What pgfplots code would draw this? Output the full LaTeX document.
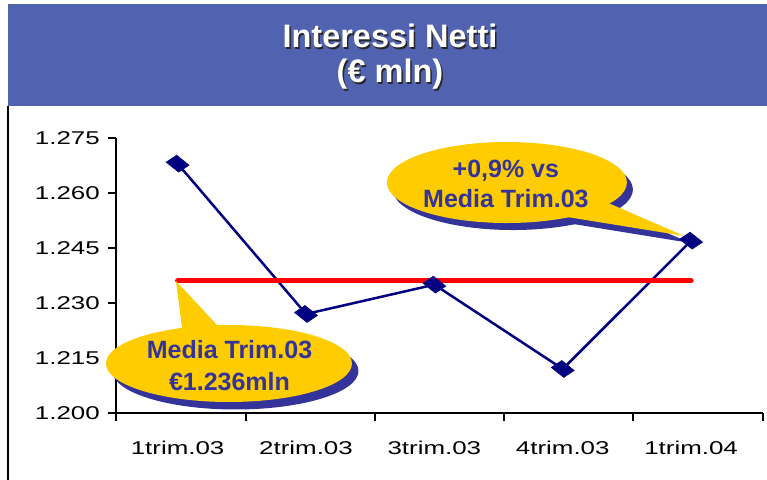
\documentclass[border=0pt]{standalone}
\usepackage{fontspec}
\setmainfont{Liberation Sans}
\usepackage{pgfplots}
\pgfplotsset{compat=1.18}
\usepackage{graphicx}
\definecolor{banner}{RGB}{80,98,176}
\definecolor{calltext}{RGB}{51,51,153}
\definecolor{callshadow}{RGB}{51,51,153}
\definecolor{callyellow}{RGB}{255,204,0}
\definecolor{dataline}{RGB}{0,0,128}
\newcommand{\sx}[1]{\scalebox{1.4}[1]{#1}}
\pgfdeclareplotmark{rhomb}{%
  \pgfpathmoveto{\pgfqpoint{-1bp}{8.5bp}}%
  \pgfpathlineto{\pgfqpoint{11.5bp}{-1.5bp}}%
  \pgfpathlineto{\pgfqpoint{1bp}{-8.5bp}}%
  \pgfpathlineto{\pgfqpoint{-11.5bp}{1.5bp}}%
  \pgfpathclose\pgfusepathqfillstroke}
\begin{document}
\begin{tikzpicture}[x=1bp,y=1bp]
\useasboundingbox (0,0) rectangle (767,480);
\fill[banner] (8,374) rectangle (767,476);
\draw[line width=2bp] (8,0) -- (8,374);
\node[font=\fontsize{32.5bp}{36bp}\selectfont\bfseries, text=black!85, anchor=base, inner sep=0pt] at (391.5,430.5) {Interessi Netti};
\node[font=\fontsize{32.5bp}{36bp}\selectfont\bfseries, text=white, anchor=base, inner sep=0pt] at (390,432) {Interessi Netti};
\node[font=\fontsize{32.5bp}{36bp}\selectfont\bfseries, text=black!85, anchor=base, inner sep=0pt] at (391.5,395.5) {(€ mln)};
\node[font=\fontsize{32.5bp}{36bp}\selectfont\bfseries, text=white, anchor=base, inner sep=0pt] at (390,397) {(€ mln)};
\begin{axis}[
  at={(116bp,67bp)}, anchor=south west, scale only axis,
  width=647bp, height=275bp,
  xmin=-0.48, xmax=4.56, ymin=1.2, ymax=1.275,
  axis lines*=left,
  axis line style={line width=2.5bp, black},
  clip=false,
  tick align=outside, major tick length=8bp,
  tick style={line width=2bp, black},
  xtick={-0.48,0.53,1.54,2.54,3.55,4.56}, xticklabels={},
  extra x ticks={0,1,2,3,4},
  extra x tick labels={\sx{1trim.03},\sx{2trim.03},\sx{3trim.03},\sx{4trim.03},\sx{1trim.04}},
  extra x tick style={major tick length=0pt, tick style={draw=none},
    xticklabel style={anchor=base, inner sep=0pt, yshift=-42bp}},
  ytick={1.2,1.215,1.23,1.245,1.26,1.275},
  yticklabels={\sx{1.200},\sx{1.215},\sx{1.230},\sx{1.245},\sx{1.260},\sx{1.275}},
  yticklabel style={anchor=east, inner sep=0pt, xshift=-8bp},
  tick label style={font=\fontsize{18.5bp}{20bp}\selectfont},
]
\addplot[dataline, line width=2.5bp, no marks] coordinates {(0,1.268) (1,1.227) (2,1.235) (3,1.212) (4,1.247)};
\addplot[red, line width=5bp, line cap=round, no marks] coordinates {(0,1.236) (4,1.236)};
% lower callout
\fill[callshadow, xshift=6.5bp, yshift=-7.5bp] (axis cs:0.400,1.2135) ellipse [x radius=123bp, y radius=38.5bp];
\fill[callshadow, xshift=6.5bp, yshift=-7.5bp] (axis cs:-0.013,1.236) -- (axis cs:0.0418,1.2213) -- (axis cs:0.377,1.2213) -- cycle;
\fill[callyellow] (axis cs:0.400,1.2135) ellipse [x radius=123bp, y radius=38.5bp];
\fill[callyellow] (axis cs:-0.013,1.236) -- (axis cs:0.0418,1.2213) -- (axis cs:0.377,1.2213) -- cycle;
\node[font=\fontsize{25bp}{28bp}\selectfont\bfseries, text=calltext, anchor=base, inner sep=0pt] at (axis cs:0.404,1.21473) {Media Trim.03};
\node[font=\fontsize{25bp}{28bp}\selectfont\bfseries, text=calltext, anchor=base, inner sep=0pt] at (axis cs:0.404,1.20627) {€1.236mln};
% upper callout
\fill[callshadow, xshift=6bp, yshift=-7bp] (axis cs:2.565,1.26286) ellipse [x radius=120bp, y radius=40.5bp];
\fill[callshadow, xshift=6bp, yshift=-7bp] (axis cs:3.944,1.2483) -- (axis cs:3.212,1.25945) -- (axis cs:2.978,1.25378) -- cycle;
\fill[callyellow] (axis cs:2.565,1.26286) ellipse [x radius=120bp, y radius=40.5bp];
\fill[callyellow] (axis cs:3.944,1.2483) -- (axis cs:3.212,1.25945) -- (axis cs:2.978,1.25378) -- cycle;
\node[font=\fontsize{25bp}{28bp}\selectfont\bfseries, text=calltext, anchor=base, inner sep=0pt] at (axis cs:2.557,1.26436) {+0,9\% vs};
\node[font=\fontsize{25bp}{28bp}\selectfont\bfseries, text=calltext, anchor=base, inner sep=0pt] at (axis cs:2.557,1.25591) {Media Trim.03};
\addplot[only marks, mark=rhomb, mark options={solid, fill=dataline, draw=dataline, line width=0.5bp}] coordinates {(0,1.268) (1,1.227) (2,1.235) (3,1.212) (4,1.247)};
\end{axis}
\end{tikzpicture}
\end{document}
